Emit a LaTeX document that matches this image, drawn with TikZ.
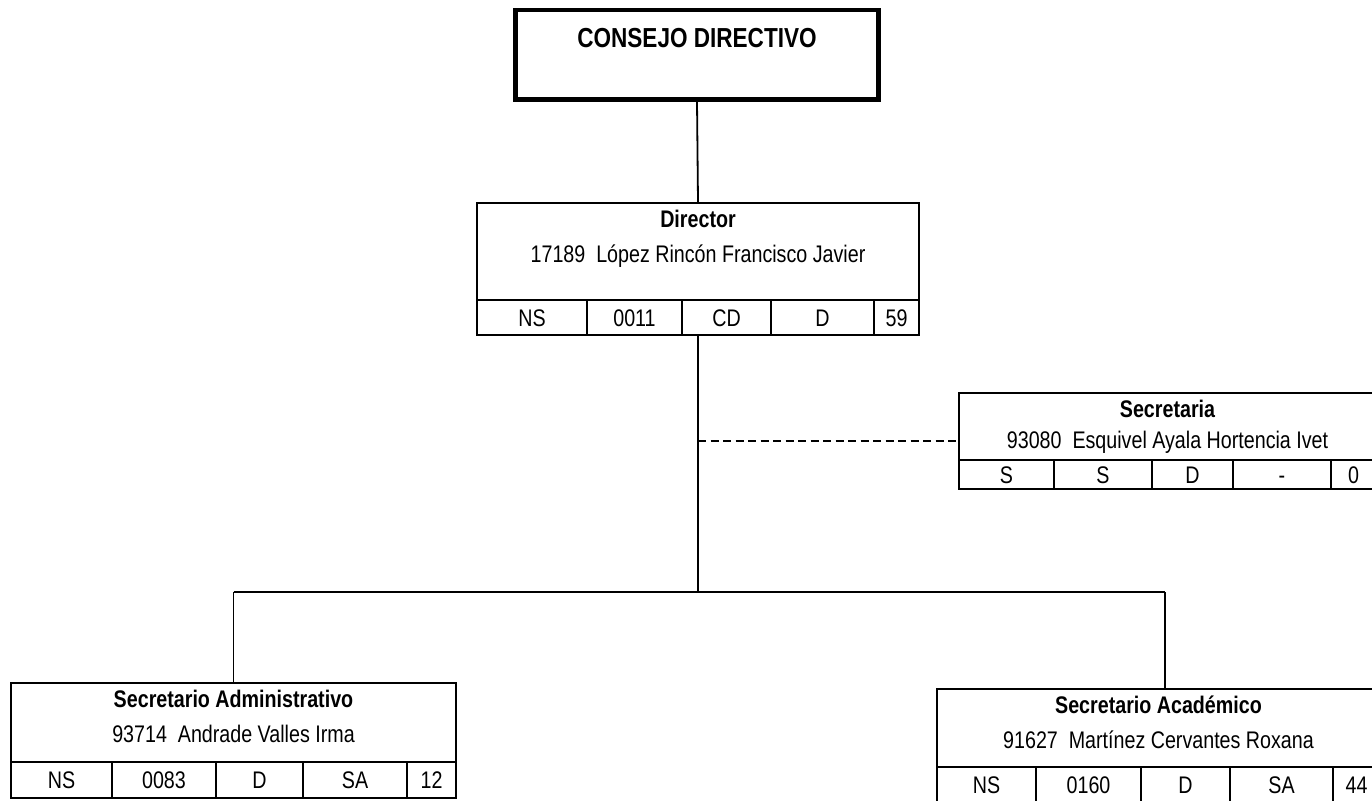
\documentclass[tikz,border=0pt]{standalone}
\usepackage{fontspec}
\setmainfont[FakeStretch=0.82]{Liberation Sans}
\usepackage{tikz}

\tikzset{
  caja/.style={draw, line width=1.8pt, inner sep=0pt},
  celda/.style={caja, font=\fontsize{24}{28}\selectfont, text height=17pt, text depth=0pt},
  texto/.style={inner sep=0pt, font=\fontsize{24}{28}\selectfont, text height=17pt, text depth=0pt},
  titulo/.style={texto, font=\fontsize{24}{28}\selectfont\bfseries},
  linea/.style={line width=1.8pt},
}

\begin{document}
\begin{tikzpicture}[x={(1pt,0pt)}, y={(0pt,-1pt)}] % pixeles, y hacia abajo
\useasboundingbox (0,0) rectangle (1372,800);

% consejo
\node[caja, line width=4.5pt, minimum width=363, minimum height=89.5] (consejo) at (697,54.75) {};
\node[titulo, font=\fontsize{27.5}{30}\selectfont\bfseries, text height=19pt] (consejo-t) at (697,38) {CONSEJO DIRECTIVO};

% director
\node[caja, minimum width=442, minimum height=132] (dir) at (698,269) {};
\node[titulo] (dir-t) at (698,219) {Director};
\node[texto] (dir-n) at (698,254) {17189\ \ López Rincón Francisco Javier};
\node[celda, minimum width=110, minimum height=35] (dir-1) at (532,317.5) {NS};
\node[celda, minimum width=95, minimum height=35] (dir-2) at (634.5,317.5) {0011};
\node[celda, minimum width=89, minimum height=35] (dir-3) at (726.5,317.5) {CD};
\node[celda, minimum width=103, minimum height=35] (dir-4) at (822.5,317.5) {D};
\node[celda, minimum width=45, minimum height=35] (dir-5) at (896.5,317.5) {59};

% secretaria
\node[caja, minimum width=417, minimum height=96] (secr) at (1167.5,441) {};
\node[titulo] (secr-t) at (1167.5,409) {Secretaria};
\node[texto] (secr-n) at (1167.5,440) {93080\ \ Esquivel Ayala Hortencia Ivet};
\node[celda, minimum width=95, minimum height=29] (secr-1) at (1006.5,474.5) {S};
\node[celda, minimum width=98, minimum height=29] (secr-2) at (1103,474.5) {S};
\node[celda, minimum width=81, minimum height=29] (secr-3) at (1192.5,474.5) {D};
\node[celda, minimum width=98, minimum height=29] (secr-4) at (1282,474.5) {-};
\node[celda, minimum width=45, minimum height=29] (secr-5) at (1353.5,474.5) {0};

% secretario administrativo
\node[caja, minimum width=445, minimum height=115] (adm) at (233.5,740.5) {};
\node[titulo] (adm-t) at (233.5,699) {Secretario Administrativo};
\node[texto] (adm-n) at (233.5,734) {93714\ \ Andrade Valles Irma};
\node[celda, minimum width=101, minimum height=36] (adm-1) at (61.5,780) {NS};
\node[celda, minimum width=104, minimum height=36] (adm-2) at (164,780) {0083};
\node[celda, minimum width=87, minimum height=36] (adm-3) at (259.5,780) {D};
\node[celda, minimum width=104, minimum height=36] (adm-4) at (355,780) {SA};
\node[celda, minimum width=49, minimum height=36] (adm-5) at (431.5,780) {12};

% secretario academico
\node[caja, minimum width=443, minimum height=114] (acad) at (1158.5,746) {};
\node[titulo] (acad-t) at (1158.5,705) {Secretario Académico};
\node[texto] (acad-n) at (1158.5,740) {91627\ \ Martínez Cervantes Roxana};
\node[celda, minimum width=99, minimum height=36] (acad-1) at (986.5,785) {NS};
\node[celda, minimum width=105, minimum height=36] (acad-2) at (1088.5,785) {0160};
\node[celda, minimum width=89, minimum height=36] (acad-3) at (1185.5,785) {D};
\node[celda, minimum width=103, minimum height=36] (acad-4) at (1281.5,785) {SA};
\node[celda, minimum width=47, minimum height=36] (acad-5) at (1356.5,785) {44};

% lineas
\coordinate (codo-i) at (233.5,592);
\coordinate (codo-d) at (1165,592);
\draw[linea] (consejo.south) -- (dir.north);
\draw[linea] (dir.south) -- (dir.south |- codo-i);
\draw[linea] (codo-i) -- (codo-d);
\draw[linea] (codo-i) -- (codo-i |- adm.north);
\draw[linea] (codo-d) -- (codo-d |- acad.north);
\draw[linea, line width=1.6pt, dash pattern=on 8pt off 4.5pt] (dir.south |- secr.west) -- (secr.west);
\end{tikzpicture}
\end{document}
